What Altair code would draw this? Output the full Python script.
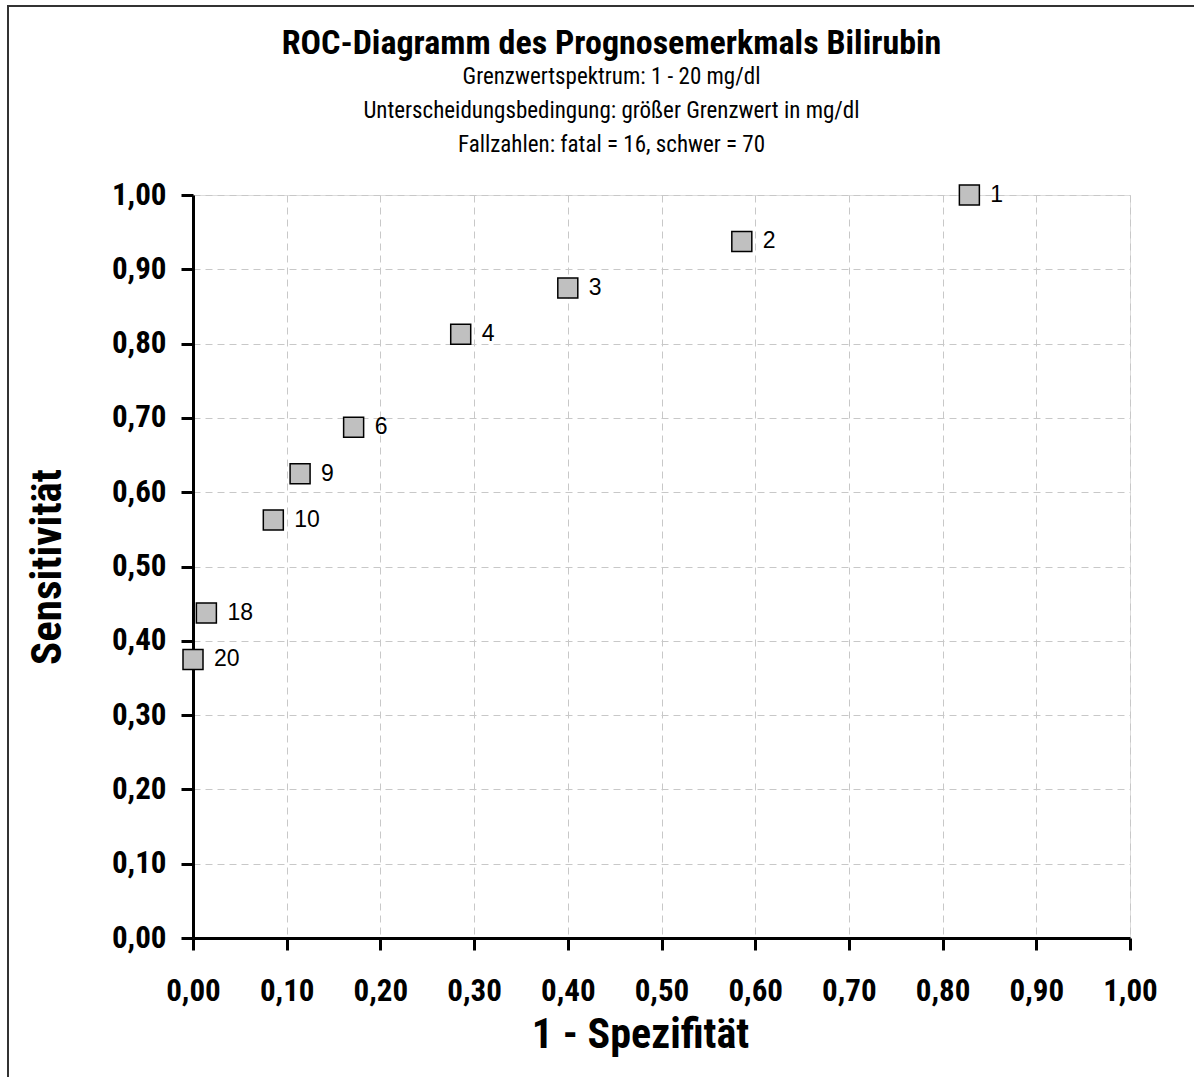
import altair as alt
import pandas as pd

# Data
thresholds = [1, 2, 3, 4, 6, 9, 10, 18, 20]
one_minus_spec = [58/70, 41/70, 28/70, 20/70, 12/70, 8/70, 6/70, 1/70, 0/70]
sensitivity = [16/16, 15/16, 14/16, 13/16, 11/16, 10/16, 9/16, 7/16, 6/16]
ticks = [round(i * 0.1, 1) for i in range(11)]

df = pd.DataFrame({"x": one_minus_spec, "y": sensitivity, "label": [str(t) for t in thresholds]})

NARROW = "Liberation Sans Narrow, Roboto Condensed, Arial Narrow, Liberation Sans, sans-serif"
REG = "Liberation Sans, Arial, sans-serif"

W, H = 937, 743
PL, PT = 193, 195

lab_expr = "replace(format(datum.value, '.2f'), '.', ',')"

xenc = alt.X("x:Q", scale=alt.Scale(domain=[0, 1], nice=False),
             axis=alt.Axis(values=ticks, labelExpr=lab_expr, title="1 - Spezifität",
                           titleFontSize=42, titleFont=NARROW, titleFontWeight="bold",
                           titlePadding=8, labelFontSize=31, labelFont=NARROW,
                           labelFontWeight="bold", labelPadding=26, titleX=447,
                           labelFlush=False, labelOverlap=False, labelBound=False,
                           domainColor="black", domainWidth=3, tickColor="black",
                           tickWidth=3, tickSize=12, gridColor="#C8C8C8",
                           gridDash=[7, 5], gridWidth=1))
yenc = alt.Y("y:Q", scale=alt.Scale(domain=[0, 1], nice=False),
             axis=alt.Axis(values=ticks, labelExpr=lab_expr, title="Sensitivität",
                           titleFontSize=43, titleFont=NARROW, titleFontWeight="bold",
                           titlePadding=42, labelFontSize=31, labelFont=NARROW,
                           labelFontWeight="bold", labelPadding=15,
                           labelFlush=False, labelOverlap=False, labelBound=False,
                           domainColor="black", domainWidth=3, tickColor="black",
                           tickWidth=3, tickSize=12, gridColor="#C8C8C8",
                           gridDash=[7, 5], gridWidth=1))

frame = alt.Chart(pd.DataFrame({"a": [0]})).mark_rect(
    fill=None, stroke="#333333", strokeWidth=2
).encode(x=alt.value(8 - PL), x2=alt.value(1230 - PL),
         y=alt.value(6 - PT), y2=alt.value(1120 - PT))

points = alt.Chart(df).mark_point(
    shape="square", size=400, filled=True, fill="#C0C0C0", stroke="black",
    strokeWidth=1.5, opacity=1
).encode(x=xenc, y=yenc)

labels = alt.Chart(df).mark_text(
    align="left", baseline="middle", dx=21, fontSize=23, font=REG, color="black"
).encode(x="x:Q", y="y:Q", text="label:N")

chart = alt.layer(frame, points, labels).properties(
    width=W, height=H,
    autosize=alt.AutoSizeParams(type="none"),
    padding={"left": PL, "top": PT, "right": 1194 - PL - W, "bottom": 1077 - PT - H},
    title=alt.TitleParams(
        text="ROC-Diagramm des Prognosemerkmals Bilirubin",
        subtitle=["Grenzwertspektrum: 1 - 20 mg/dl",
                  "Unterscheidungsbedingung: größer Grenzwert in mg/dl",
                  "Fallzahlen: fatal = 16, schwer = 70"],
        font=NARROW, fontSize=34, fontWeight="bold", color="black",
        subtitleFont=NARROW, subtitleFontSize=23, subtitleColor="black",
        subtitleLineHeight=34, subtitlePadding=5,
        anchor="middle", dx=-50, offset=-152
    )
).configure_view(stroke="#BBBBBB", strokeWidth=1).configure(background="white")

chart.save("out.html", embed_options={"renderer": "svg", "actions": False})
